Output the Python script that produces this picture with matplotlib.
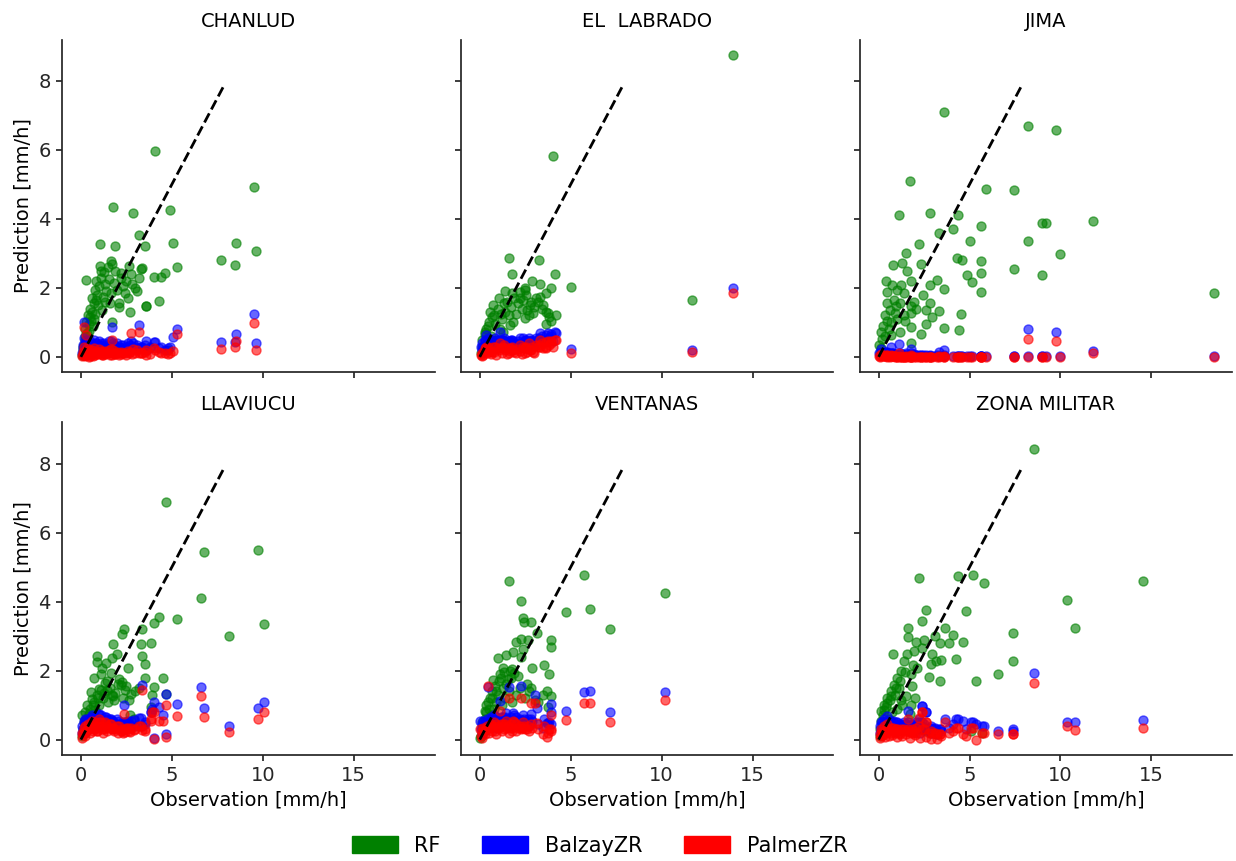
#!/usr/bin/env python3
"""
plot.py
Observed vs predicted rain rate per station: RF, BalzayZR and PalmerZR.
"""

import matplotlib
matplotlib.use("Agg")
import matplotlib.pyplot as plt
from matplotlib.patches import Patch

# ---- data (obs [mm/h], predictions [mm/h]) ----
STATIONS = ["CHANLUD", "EL  LABRADO", "JIMA", "LLAVIUCU", "VENTANAS", "ZONA MILITAR"]

CHANLUD_OBS = [9.54, 8.53, 8.50, 7.71, 9.65, 4.10, 5.29, 5.09, 4.91, 4.62, 4.29, 4.01, 3.59, 3.52,
               3.19, 3.37, 3.19, 3.09, 2.88, 2.73, 2.64, 2.18, 2.09, 1.87, 1.76, 1.72, 1.65, 1.72,
               1.06, 1.06, 1.10, 0.26, 0.16,
               0.05, 0.10, 0.15, 0.20, 0.25, 0.30, 0.35, 0.40, 0.45, 0.50, 0.55, 0.60, 0.65, 0.70,
               0.75, 0.80, 0.85, 0.90, 0.95, 1.00, 1.10, 1.20, 1.25, 1.30, 1.40, 1.50, 1.55, 1.60,
               1.80, 1.90, 2.00, 2.20, 2.30, 2.40, 2.50, 2.60, 2.80, 3.00,
               0.12, 0.22, 0.32, 0.42, 0.52, 0.62, 0.72, 0.82, 1.15, 1.35, 1.65, 2.10, 2.70, 3.30,
               3.60, 3.80, 4.40, 4.80]
CHANLUD_RF = [4.94, 3.31, 2.67, 2.80, 3.07, 5.96, 2.60, 3.30, 4.25, 2.43, 1.63, 2.32, 1.47, 3.21,
              3.53, 2.58, 2.29, 1.90, 4.18, 2.39, 2.63, 2.43, 1.56, 3.21, 4.35, 1.02, 2.77, 2.68,
              3.26, 2.63, 2.50, 2.24, 0.20,
              0.05, 0.20, 0.35, 0.60, 0.80, 1.00, 0.45, 1.20, 0.75, 1.40, 1.05, 1.70, 0.90, 1.55,
              1.95, 1.25, 2.20, 1.80, 1.50, 2.05, 2.30, 1.75, 2.45, 2.10, 1.90, 2.60, 2.25, 1.55,
              2.15, 2.50, 1.95, 2.30, 2.05, 1.85, 2.20, 1.70, 2.10, 2.00,
              0.30, 0.50, 0.70, 0.95, 1.15, 1.30, 1.10, 1.65, 1.35, 1.60, 1.85, 1.45, 1.30, 2.55,
              1.47, 0.30, 2.32, 0.20]
CHANLUD_BALZAY = [1.24, 0.66, 0.42, 0.42, 0.41, 0.42, 0.80, 0.58, 0.30, 0.20, 0.25, 0.42, 0.45, 0.35,
                  0.92, 0.30, 0.25, 0.35, 0.40, 0.45, 0.30, 0.35, 0.30, 0.25, 0.40, 0.88, 0.30, 0.20,
                  0.30, 0.35, 0.40, 0.50, 1.00,
                  0.10, 0.25, 0.55, 0.15, 0.35, 0.20, 0.40, 0.30, 0.10, 0.45, 0.25, 0.35, 0.15, 0.50,
                  0.30, 0.20, 0.40, 0.25, 0.35, 0.45, 0.30, 0.20, 0.40, 0.25, 0.35, 0.30, 0.45, 0.20,
                  0.35, 0.30, 0.40, 0.25, 0.35, 0.30, 0.20, 0.40, 0.25, 0.30,
                  0.35, 0.20, 0.45, 0.30, 0.15, 0.40, 0.25, 0.35, 0.20, 0.30, 0.45, 0.25, 0.35, 0.30,
                  0.20, 0.25, 0.30, 0.25]
CHANLUD_PALMER = [0.98, 0.46, 0.30, 0.22, 0.21, 0.20, 0.66, 0.18, 0.10, 0.10, 0.15, 0.25, 0.20, 0.15,
                  0.72, 0.12, 0.10, 0.20, 0.22, 0.68, 0.10, 0.15, 0.10, 0.08, 0.20, 0.50, 0.10, 0.05,
                  0.10, 0.15, 0.18, 0.64, 0.86,
                  0.02, 0.05, 0.30, 0.03, 0.10, 0.05, 0.18, 0.08, 0.01, 0.20, 0.06, 0.12, 0.02, 0.25,
                  0.10, 0.04, 0.15, 0.07, 0.12, 0.22, 0.09, 0.05, 0.16, 0.08, 0.14, 0.10, 0.20, 0.06,
                  0.12, 0.09, 0.15, 0.08, 0.12, 0.10, 0.06, 0.16, 0.08, 0.12,
                  0.15, 0.05, 0.25, 0.10, 0.03, 0.20, 0.08, 0.15, 0.05, 0.12, 0.22, 0.06, 0.15, 0.10,
                  0.05, 0.08, 0.12, 0.08]

LABRADO_OBS = [13.90, 11.65, 4.01, 5.04, 1.59, 3.26, 1.78, 4.12, 2.89, 3.30, 3.94, 2.47, 2.20, 2.56,
               1.37, 3.66, 1.06, 0.73, 0.55, 2.75, 3.11, 3.30, 3.66, 3.75, 2.93, 2.47, 3.63, 1.83,
               1.65, 0.37, 0.27, 1.10, 1.28,
               0.05, 0.10, 0.15, 0.20, 0.40, 0.50, 0.60, 0.80, 0.90, 1.00, 1.20, 1.40, 1.50, 1.70,
               1.90, 2.00, 2.10, 2.30, 2.40, 2.60, 2.80, 3.00, 3.50, 3.90, 4.20,
               0.30, 0.45, 0.65, 0.85, 1.15, 1.35, 1.60, 1.80, 2.20, 2.50, 2.70, 3.20, 3.40, 3.80]
LABRADO_RF = [8.76, 1.66, 5.82, 2.04, 2.87, 2.82, 2.40, 2.41, 2.19, 2.11, 1.99, 2.01, 1.89, 1.80,
              1.90, 1.84, 1.70, 1.51, 1.31, 1.50, 1.70, 1.75, 1.31, 1.26, 1.26, 1.12, 0.94, 1.02,
              0.92, 0.82, 0.72, 0.82, 0.73,
              0.10, 0.30, 0.50, 0.20, 0.40, 1.00, 0.60, 1.20, 0.50, 1.40, 1.10, 1.30, 1.60, 1.45,
              1.70, 1.25, 1.55, 1.40, 1.65, 1.35, 1.60, 1.45, 1.50, 1.05, 1.20,
              0.65, 0.90, 1.15, 0.95, 1.25, 1.55, 1.20, 1.85, 1.70, 1.95, 1.20, 1.60, 1.40, 1.15]
LABRADO_BALZAY = [1.99, 0.20, 0.45, 0.24, 0.45, 0.55, 0.40, 0.73, 0.50, 0.68, 0.60, 0.45, 0.40, 0.50,
                  0.45, 0.62, 0.40, 0.50, 0.35, 0.45, 0.55, 0.50, 0.45, 0.68, 0.40, 0.35, 0.50, 0.45,
                  0.40, 0.63, 0.45, 0.73, 0.50,
                  0.30, 0.20, 0.40, 0.25, 0.35, 0.45, 0.30, 0.40, 0.25, 0.50, 0.35, 0.45, 0.30, 0.50,
                  0.40, 0.35, 0.45, 0.30, 0.55, 0.40, 0.45, 0.35, 0.45, 0.65, 0.70,
                  0.50, 0.55, 0.45, 0.55, 0.50, 0.55, 0.45, 0.50, 0.55, 0.50, 0.55, 0.50, 0.60, 0.55]
LABRADO_PALMER = [1.84, 0.15, 0.30, 0.12, 0.25, 0.35, 0.20, 0.49, 0.30, 0.49, 0.40, 0.25, 0.18, 0.30,
                  0.25, 0.42, 0.20, 0.30, 0.15, 0.20, 0.35, 0.30, 0.25, 0.45, 0.15, 0.10, 0.30, 0.20,
                  0.18, 0.30, 0.20, 0.40, 0.28,
                  0.05, 0.02, 0.10, 0.05, 0.12, 0.20, 0.08, 0.15, 0.05, 0.25, 0.10, 0.20, 0.08, 0.25,
                  0.15, 0.10, 0.22, 0.08, 0.30, 0.15, 0.20, 0.12, 0.25, 0.45, 0.50,
                  0.25, 0.30, 0.15, 0.30, 0.25, 0.35, 0.10, 0.30, 0.35, 0.25, 0.40, 0.30, 0.40, 0.35]

JIMA_OBS = [3.61, 8.22, 9.76, 1.70, 5.88, 7.43, 1.12, 2.80, 4.36, 8.99, 9.23, 11.78, 5.64, 4.10,
            3.33, 5.05, 8.22, 2.22, 1.52, 10.00, 0.79, 1.30, 2.31, 1.56, 4.32, 4.60, 5.64, 5.64,
            7.43, 8.99, 4.87, 5.15, 3.22, 0.38, 0.75, 1.25, 1.80, 2.82, 3.59, 5.64, 0.48, 1.03,
            1.39, 2.82, 0.48, 0.93, 1.76, 2.03, 2.58, 3.33, 4.54, 0.33, 0.88, 1.39, 1.76, 2.58,
            3.59, 4.43, 2.31, 1.76, 1.20, 0.66, 0.11, 0.20, 0.02, 1.76, 18.46, 0.05, 0.15,
            0.25, 0.35, 0.45, 0.55, 0.60, 0.70, 0.85, 1.00, 1.15, 1.45, 1.95, 2.45, 2.95]
JIMA_RF = [7.09, 6.69, 6.57, 5.09, 4.87, 4.84, 4.12, 4.17, 4.11, 3.87, 3.89, 3.94, 3.80, 3.70,
           3.60, 3.36, 3.37, 3.28, 3.02, 2.99, 2.66, 2.72, 2.68, 2.50, 2.87, 2.82, 2.79, 2.42,
           2.55, 2.38, 2.38, 2.16, 2.24, 2.20, 2.09, 2.09, 2.20, 2.07, 1.96, 1.88, 1.89, 1.94,
           1.85, 1.57, 1.56, 1.47, 1.47, 1.38, 1.35, 1.32, 1.24, 1.22, 1.27, 1.22, 1.27, 0.95,
           0.83, 0.77, 0.65, 0.87, 0.73, 0.63, 0.73, 0.53, 0.34, 0.40, 1.86, 0.10, 0.25,
           0.90, 0.60, 1.05, 0.80, 1.35, 1.00, 1.65, 1.10, 1.55, 1.05, 1.60, 1.80, 1.15]
JIMA_BALZAY = [0.05, 0.80, 0.73, 0.05, 0.02, 0.02, 0.36, 0.05, 0.03, 0.02, 0.02, 0.18, 0.02, 0.02,
               0.15, 0.02, 0.02, 0.05, 0.10, 0.02, 0.10, 0.08, 0.05, 0.05, 0.02, 0.02, 0.02, 0.02,
               0.02, 0.02, 0.02, 0.02, 0.05, 0.15, 0.10, 0.05, 0.05, 0.02, 0.20, 0.02, 0.10, 0.05,
               0.05, 0.02, 0.05, 0.08, 0.23, 0.05, 0.05, 0.02, 0.02, 0.10, 0.05, 0.05, 0.10, 0.02,
               0.02, 0.02, 0.02, 0.05, 0.05, 0.28, 0.23, 0.15, 0.10, 0.05, 0.02, 0.05, 0.08,
               0.12, 0.08, 0.15, 0.10, 0.05, 0.12, 0.08, 0.05, 0.10, 0.05, 0.08, 0.05, 0.02]
JIMA_PALMER = [0.00, 0.51, 0.47, 0.00, 0.00, 0.00, 0.10, 0.00, 0.00, 0.00, 0.00, 0.10, 0.00, 0.00,
               0.02, 0.00, 0.00, 0.00, 0.02, 0.00, 0.02, 0.00, 0.00, 0.00, 0.00, 0.00, 0.00, 0.00,
               0.00, 0.00, 0.00, 0.00, 0.00, 0.05, 0.02, 0.00, 0.00, 0.00, 0.02, 0.00, 0.02, 0.00,
               0.00, 0.00, 0.00, 0.02, 0.05, 0.00, 0.00, 0.00, 0.00, 0.02, 0.00, 0.00, 0.02, 0.00,
               0.00, 0.00, 0.00, 0.00, 0.00, 0.05, 0.08, 0.05, 0.02, 0.00, 0.00, 0.00, 0.02,
               0.03, 0.02, 0.05, 0.02, 0.00, 0.03, 0.02, 0.00, 0.02, 0.00, 0.00, 0.00, 0.00]

LLAVIUCU_OBS = [9.74, 6.79, 4.69, 6.61, 5.29, 10.05, 8.13, 4.29, 4.01, 3.37, 2.36, 2.27, 3.28, 3.88,
                1.78, 0.86, 0.86, 2.00, 1.72, 1.36, 1.17, 3.37, 3.50, 2.58, 0.71, 1.08, 1.63, 3.50,
                4.50, 4.01, 2.78, 3.19, 2.27, 2.18, 1.72, 1.81, 1.44, 0.35, 0.62, 0.53, 0.99, 4.69,
                0.07, 0.25, 2.45, 2.91, 2.72, 3.92, 3.83,
                0.05, 0.10, 0.15, 0.20, 0.30, 0.40, 0.50, 0.60, 0.70, 0.80, 0.90, 1.00, 1.10, 1.20,
                1.30, 1.50, 1.60, 1.90, 2.10, 2.30, 2.50, 3.00,
                0.25, 0.45, 0.65, 0.95, 1.25, 1.45, 1.75, 2.05, 2.40, 2.65]
LLAVIUCU_RF = [5.51, 5.43, 6.88, 4.10, 3.51, 3.35, 3.00, 3.54, 3.37, 3.20, 3.22, 3.07, 2.78, 2.80,
               2.78, 2.42, 2.25, 2.48, 2.37, 2.22, 2.07, 2.42, 2.20, 2.07, 1.78, 1.89, 1.92, 1.78,
               1.80, 1.52, 1.33, 1.49, 1.68, 1.58, 1.30, 1.15, 1.44, 1.00, 1.19, 1.38, 1.48, 1.33,
               0.72, 0.81, 0.50, 0.60, 0.70, 1.30, 0.95,
               0.10, 0.30, 0.50, 0.20, 0.60, 0.40, 0.90, 0.70, 1.10, 0.85, 1.30, 1.00, 1.45, 1.20,
               1.65, 1.10, 1.50, 1.35, 1.75, 1.20, 1.55, 1.40,
               0.55, 0.75, 1.00, 1.20, 1.35, 1.70, 1.25, 1.60, 1.45, 1.15]
LLAVIUCU_BALZAY = [0.91, 0.91, 1.33, 1.53, 1.02, 1.09, 0.40, 0.95, 1.10, 1.59, 1.00, 0.45, 0.62, 0.80,
                   0.50, 0.55, 0.45, 0.60, 0.55, 0.65, 0.50, 0.40, 0.45, 0.55, 0.60, 0.70, 0.60, 0.50,
                   0.71, 0.04, 0.55, 0.62, 0.50, 0.45, 0.55, 0.40, 0.60, 0.50, 0.55, 0.65, 0.70, 0.16,
                   0.40, 0.45, 0.47, 0.57, 0.35, 0.90, 0.80,
                   0.20, 0.30, 0.55, 0.25, 0.40, 0.60, 0.35, 0.70, 0.50, 0.65, 0.45, 0.75, 0.55, 0.40,
                   0.65, 0.50, 0.60, 0.45, 0.55, 0.35, 0.45, 0.40,
                   0.60, 0.50, 0.45, 0.60, 0.50, 0.45, 0.55, 0.40, 0.50, 0.45]
LLAVIUCU_PALMER = [0.60, 0.65, 1.00, 1.25, 0.69, 0.79, 0.21, 0.53, 0.79, 1.45, 0.75, 0.25, 0.40, 0.55,
                   0.30, 0.35, 0.25, 0.40, 0.30, 0.45, 0.30, 0.28, 0.25, 0.35, 0.40, 0.50, 0.45, 0.30,
                   0.53, 0.02, 0.35, 0.40, 0.30, 0.25, 0.35, 0.25, 0.40, 0.30, 0.35, 0.45, 0.50, 0.07,
                   0.20, 0.25, 0.23, 0.28, 0.23, 0.79, 0.60,
                   0.05, 0.15, 0.35, 0.10, 0.25, 0.45, 0.20, 0.55, 0.30, 0.50, 0.25, 0.60, 0.40, 0.20,
                   0.50, 0.35, 0.45, 0.30, 0.40, 0.20, 0.35, 0.30,
                   0.40, 0.30, 0.25, 0.40, 0.30, 0.25, 0.35, 0.20, 0.30, 0.25]

VENTANAS_OBS = [1.59, 5.71, 10.16, 2.29, 6.04, 4.73, 2.38, 2.42, 2.80, 7.14, 3.15, 3.90, 3.90, 1.98,
                2.29, 2.66, 1.83, 2.29, 2.38, 1.01, 1.47, 2.89, 3.52, 3.81, 1.28, 1.65, 1.10, 0.73,
                1.89, 3.70, 3.94, 2.84, 1.74, 1.47, 1.28, 0.92, 0.55, 0.37, 0.27, 0.46, 3.02, 3.76,
                0.00,
                0.05, 0.10, 0.15, 0.20, 0.30, 0.40, 0.50, 0.60, 0.70, 0.80, 0.90, 1.00, 1.20, 1.40,
                1.60, 1.80, 2.00, 2.20, 2.50, 2.70, 3.20, 3.50,
                0.35, 0.65, 0.85, 1.05, 1.15, 1.35, 1.55, 1.75, 2.10, 2.60]
VENTANAS_RF = [4.61, 4.76, 4.24, 4.03, 3.79, 3.69, 3.52, 3.42, 3.42, 3.22, 3.10, 2.88, 2.68, 2.83,
               2.93, 2.88, 2.55, 2.39, 2.62, 2.36, 2.45, 2.09, 2.16, 1.89, 2.09, 1.99, 1.89, 1.74,
               1.94, 1.42, 1.25, 1.50, 1.80, 1.60, 1.50, 1.40, 1.21, 1.01, 0.82, 1.10, 1.15, 0.95,
               0.05,
               0.10, 0.30, 0.50, 0.20, 0.60, 0.40, 0.90, 0.70, 1.20, 0.90, 1.10, 1.30, 1.00, 1.20,
               1.40, 1.10, 1.30, 1.50, 1.20, 1.40, 1.10, 1.30,
               0.80, 1.40, 1.55, 1.70, 1.80, 1.95, 1.75, 2.05, 1.85, 1.60]
VENTANAS_BALZAY = [1.52, 1.37, 1.37, 1.55, 1.40, 0.82, 0.70, 0.60, 0.75, 0.81, 0.92, 1.04, 0.80, 0.65,
                   0.55, 0.60, 0.77, 0.50, 0.55, 0.60, 0.77, 0.55, 0.60, 0.50, 0.65, 0.55, 1.11, 0.60,
                   0.70, 0.48, 0.45, 0.60, 0.65, 0.55, 0.60, 0.65, 0.55, 0.50, 0.45, 1.52, 1.30, 0.48,
                   0.54,
                   0.30, 0.45, 0.20, 0.55, 0.35, 0.60, 0.40, 0.65, 0.45, 0.70, 0.35, 0.55, 0.45, 0.65,
                   0.40, 0.55, 0.45, 0.60, 0.50, 0.40, 0.45, 0.35,
                   0.50, 0.60, 0.45, 0.55, 0.65, 0.50, 0.60, 0.45, 0.55, 0.50]
VENTANAS_PALMER = [1.20, 1.06, 1.16, 1.21, 1.06, 0.57, 0.50, 0.40, 1.06, 0.52, 0.48, 0.72, 0.24, 0.45,
                   0.35, 0.40, 0.55, 0.30, 0.35, 0.40, 0.55, 0.35, 0.40, 0.30, 0.45, 0.35, 0.82, 0.40,
                   0.50, 0.08, 0.30, 0.45, 0.45, 0.35, 0.40, 0.45, 0.35, 0.30, 0.25, 1.55, 1.06, 0.20,
                   0.30,
                   0.10, 0.25, 0.05, 0.35, 0.15, 0.40, 0.20, 0.45, 0.25, 0.50, 0.15, 0.35, 0.25, 0.45,
                   0.20, 0.35, 0.25, 0.40, 0.30, 0.25, 0.30, 0.15,
                   0.30, 0.40, 0.25, 0.35, 0.45, 0.30, 0.40, 0.25, 0.35, 0.30]

ZONA_OBS = [8.57, 2.20, 4.38, 5.18, 5.79, 14.54, 10.37, 10.79, 2.60, 2.40, 4.80, 1.61, 1.61, 3.66,
            4.08, 3.88, 3.38, 3.11, 2.47, 2.05, 4.66, 7.38, 7.38, 4.25, 2.95, 3.13, 3.41, 2.86,
            0.79, 1.39, 1.58, 1.94, 2.40, 2.77, 3.37, 5.38, 6.57, 1.85, 1.76, 2.13, 1.21, 1.03,
            0.84, 0.66, 0.48, 0.29, 0.11, 1.21, 1.76, 2.36, 2.22, 2.58, 5.08, 5.67,
            0.05, 0.10, 0.15, 0.20, 0.25, 0.35, 0.40, 0.55, 0.60, 0.75, 0.90, 1.00, 1.10, 1.30,
            1.50, 1.70, 2.00, 2.30, 2.60, 2.90, 3.20,
            0.30, 0.45, 0.70, 0.95, 1.15, 1.45, 1.90]
ZONA_RF = [8.43, 4.69, 4.73, 4.78, 4.54, 4.59, 4.06, 3.25, 3.76, 3.43, 3.74, 3.23, 2.98, 3.23,
           3.02, 2.81, 2.80, 2.99, 2.90, 2.83, 2.82, 3.09, 2.28, 2.34, 2.47, 2.28, 2.30, 2.18,
           2.49, 2.28, 2.47, 2.57, 2.66, 1.81, 1.69, 1.69, 1.89, 1.54, 1.89, 2.08, 1.98, 1.79,
           1.59, 1.40, 1.21, 1.01, 0.82, 1.16, 1.01, 0.40, 0.35, 0.30, 0.25, 0.20,
           0.10, 0.30, 0.55, 0.20, 0.70, 0.45, 0.95, 0.60, 1.15, 0.80, 1.30, 0.90, 1.50, 1.00,
           1.25, 0.75, 1.20, 0.30, 0.25, 0.20, 0.15,
           0.85, 1.05, 1.25, 1.50, 1.70, 1.95, 2.15]
ZONA_BALZAY = [1.92, 0.60, 0.60, 0.52, 0.40, 0.57, 0.52, 0.52, 0.79, 0.97, 0.30, 0.84, 0.50, 0.60,
               0.45, 0.35, 0.30, 0.35, 0.45, 0.50, 0.54, 0.31, 0.25, 0.60, 0.35, 0.30, 0.25, 0.40,
               0.55, 0.50, 0.45, 0.40, 0.50, 0.35, 0.30, 0.45, 0.26, 0.45, 0.40, 0.35, 0.45, 0.50,
               0.45, 0.55, 0.67, 0.60, 0.50, 0.40, 0.35, 0.97, 0.52, 0.79, 0.52, 0.40,
               0.20, 0.40, 0.30, 0.50, 0.35, 0.25, 0.45, 0.30, 0.50, 0.35, 0.40, 0.25, 0.45, 0.30,
               0.40, 0.25, 0.35, 0.20, 0.30, 0.20, 0.15,
               0.45, 0.55, 0.40, 0.50, 0.35, 0.45, 0.40]
ZONA_PALMER = [1.63, 0.40, 0.35, 0.33, 0.20, 0.35, 0.38, 0.28, 0.52, 0.80, 0.10, 0.60, 0.30, 0.52,
               0.25, 0.18, 0.15, 0.20, 0.30, 0.35, 0.15, 0.17, 0.15, 0.35, 0.20, 0.15, 0.10, 0.25,
               0.35, 0.30, 0.25, 0.25, 0.30, 0.20, 0.15, 0.00, 0.15, 0.30, 0.25, 0.20, 0.30, 0.30,
               0.25, 0.35, 0.45, 0.40, 0.30, 0.25, 0.20, 0.80, 0.64, 0.52, 0.33, 0.20,
               0.05, 0.15, 0.10, 0.25, 0.12, 0.08, 0.20, 0.10, 0.25, 0.12, 0.18, 0.08, 0.20, 0.10,
               0.15, 0.05, 0.12, 0.05, 0.08, 0.03, 0.02,
               0.25, 0.35, 0.20, 0.30, 0.15, 0.25, 0.20]

OBS = [CHANLUD_OBS, LABRADO_OBS, JIMA_OBS, LLAVIUCU_OBS, VENTANAS_OBS, ZONA_OBS]
RF = [CHANLUD_RF, LABRADO_RF, JIMA_RF, LLAVIUCU_RF, VENTANAS_RF, ZONA_RF]
BALZAY = [CHANLUD_BALZAY, LABRADO_BALZAY, JIMA_BALZAY, LLAVIUCU_BALZAY, VENTANAS_BALZAY, ZONA_BALZAY]
PALMER = [CHANLUD_PALMER, LABRADO_PALMER, JIMA_PALMER, LLAVIUCU_PALMER, VENTANAS_PALMER, ZONA_PALMER]

MODELS = ["RF", "BalzayZR", "PalmerZR"]
COLORS = ["green", "blue", "red"]
DIAG_MAX = 7.9  # end of the 1:1 reference line

plt.rcParams["font.family"] = "DejaVu Sans"
plt.rcParams["font.size"] = 14
plt.rcParams["axes.edgecolor"] = "#262626"
plt.rcParams["axes.linewidth"] = 1.25
plt.rcParams["xtick.major.width"] = 1.25
plt.rcParams["ytick.major.width"] = 1.25
plt.rcParams["xtick.major.size"] = 4.5
plt.rcParams["ytick.major.size"] = 4.5
plt.rcParams["xtick.color"] = "#262626"
plt.rcParams["ytick.color"] = "#262626"

fig, axes = plt.subplots(2, 3, figsize=(12.36, 8.61), dpi=100, sharex=True, sharey=True)
fig.subplots_adjust(left=0.050, right=0.997, top=0.954, bottom=0.123, wspace=0.07, hspace=0.15)

for i, ax in enumerate(axes.flat):
    for preds, col in zip([RF[i], BALZAY[i], PALMER[i]], COLORS):
        ax.scatter(OBS[i], preds, s=42, color=col, alpha=0.6, zorder=2)
    ax.plot([0, DIAG_MAX], [0, DIAG_MAX], "k--", lw=2, zorder=3)
    ax.set_title(STATIONS[i], fontsize=14, pad=9)
    ax.spines["top"].set_visible(False)
    ax.spines["right"].set_visible(False)
    ax.tick_params(labelsize=14, colors="#262626")
    ax.set_xlim(-1.05, 19.45)
    ax.set_ylim(-0.45, 9.2)
    ax.set_xticks([0, 5, 10, 15])
    ax.set_yticks([0, 2, 4, 6, 8])
    if i % 3 == 0:
        ax.set_ylabel("Prediction [mm/h]", fontsize=14)
    if i >= 3:
        ax.set_xlabel("Observation [mm/h]", fontsize=14)

handles = [Patch(facecolor=c, edgecolor=c, label=m) for m, c in zip(MODELS, COLORS)]
fig.legend(handles=handles, loc="lower center", bbox_to_anchor=(0.485, -0.016), ncol=3,
           frameon=False, fontsize=15, handlelength=2.2, handleheight=0.9, columnspacing=2.0)

fig.savefig("out.png", dpi=100)
